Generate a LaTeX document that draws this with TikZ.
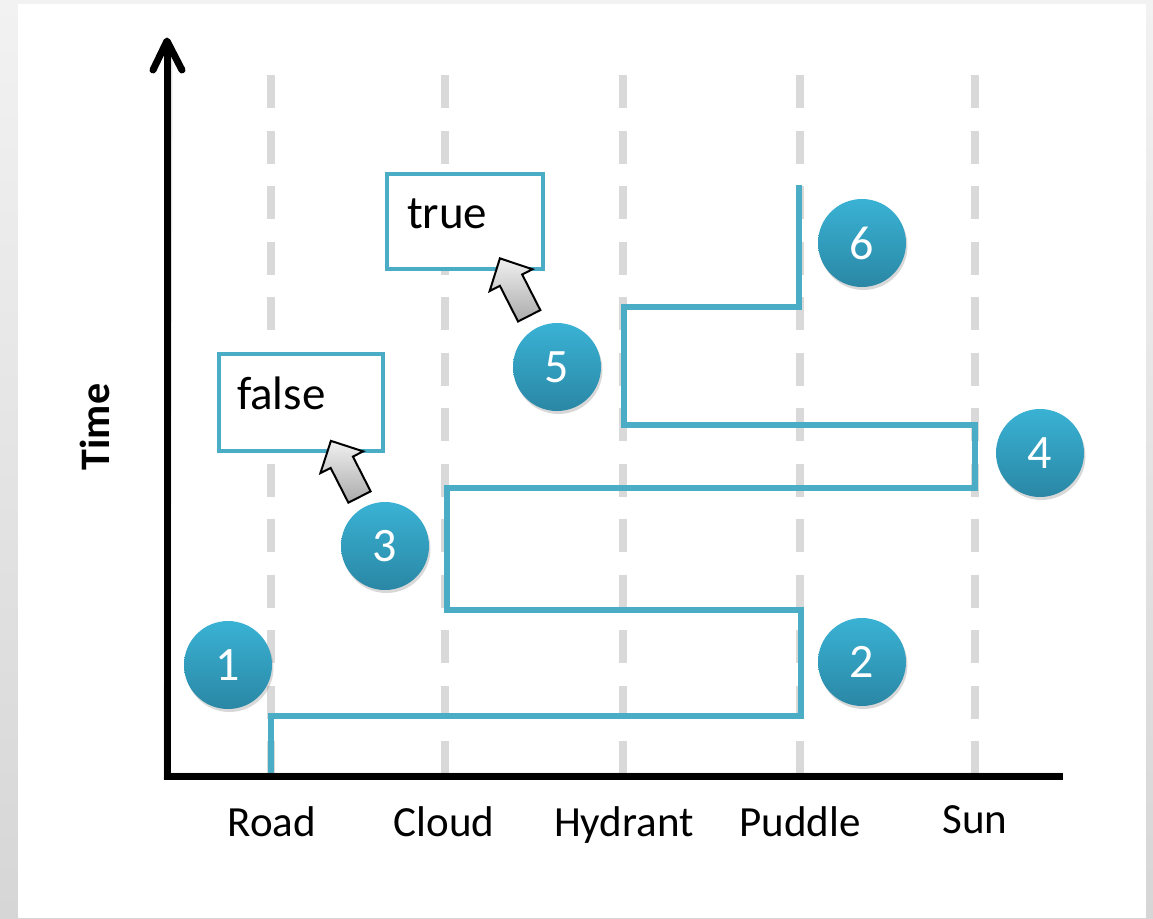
\documentclass[tikz,border=0pt]{standalone}
\usepackage{fontspec}
\setmainfont{Carlito}
\usetikzlibrary{shadows}
\definecolor{seqblue}{HTML}{4BACC6}
\definecolor{circtop}{HTML}{3AB2D4}
\definecolor{circbot}{HTML}{2A87A5}
\definecolor{guide}{HTML}{D9D9D9}
\definecolor{bgtop}{HTML}{F2F2F2}
\definecolor{bgbot}{HTML}{D6D6D6}
\definecolor{calltop}{HTML}{F0F0F0}
\definecolor{callbot}{HTML}{ABABAB}
\begin{document}
\begin{tikzpicture}[x=1pt,y=-1pt,
  axisline/.style={line width=7pt, black},
  guideline/.style={line width=8pt, guide, dash pattern=on 33pt off 22.5pt},
  seqline/.style={line width=6pt, seqblue, line join=miter},
  valbox/.style={draw=seqblue, line width=4pt, fill=white, inner ysep=0pt, align=left, font=\fontsize{47}{50}\selectfont},
  stepnum/.style={circle, minimum size=88pt, inner sep=0pt, top color=circtop, bottom color=circbot, text=white, font=\fontsize{48}{52}\selectfont, drop shadow={shadow xshift=1.5pt, shadow yshift=-3pt, opacity=0.3}},
  collabel/.style={anchor=base, font=\fontsize{43}{46}\selectfont},
  callout/.style={draw=black, line width=2pt, line join=miter, top color=calltop, bottom color=callbot}
]
% background
\fill[top color=bgtop, bottom color=bgbot] (0,0) rectangle (1153,918);
\fill[white] (18,4) rectangle (1146,918);
\useasboundingbox (0,0) rectangle (1153,918);

% axis coordinates
\coordinate (O) at (167,776);
\coordinate (ytip) at (167,41);
\coordinate (xend) at (1063,776);

% guide lines
\foreach \n/\x in {road/271, cloud/445, hydrant/623, puddle/800, sun/975}{
  \coordinate (\n) at (\x,75);
  \draw[guideline] (\n) -- (\n |- O);
}

% column labels
\node[collabel] (lroad) at (272,836) {Road};
\node[collabel] (lcloud) at (444,836) {Cloud};
\node[collabel] (lhydrant) at (624,836) {Hydrant};
\node[collabel] (lpuddle) at (800,836) {Puddle};
\node[collabel] (lsun) at (975,833) {Sun};

% time label
\node[rotate=90, font=\bfseries\fontsize{42}{46}\selectfont, inner sep=0pt] (timelbl) at (95,427) {Time};

% sequence path
\draw[seqline] (271,776) -- (271,716) -- (801,716) -- (801,610) -- (447,610) -- (447,488)
  -- (975,488) -- (975,425) -- (624,425) -- (624,307) -- (799,307) -- (799,185);

% axes shadow
\begin{scope}[shift={(2,3)}]
  \draw[axisline, gray, opacity=0.25] (xend) -- (O) -- (167,46);
\end{scope}
% axes
\draw[axisline] (xend) -- (O) -- (167,46);
\draw[axisline, line cap=round, line join=round] (153,70) -- (ytip) -- (182,70);

% value boxes
\node[valbox, text width=128pt, inner xsep=18pt, text height=55pt, text depth=42pt] (fbox) at (301,402.5) {false};
\node[valbox, text width=116pt, inner xsep=20pt, text height=54pt, text depth=41pt] (tbox) at (465,221.5) {true};

% callout arrows
\begin{scope}[shift={(359.5,497)}, rotate=117]
  \draw[callout] (0,12.5) -- (39,12.5) -- (39,24) -- (63,0) -- (39,-24) -- (39,-12.5) -- (0,-12.5) -- cycle;
\end{scope}
\begin{scope}[shift={(529.2,315.8)}, rotate=117]
  \draw[callout] (0,12.5) -- (40,12.5) -- (40,24) -- (64.5,0) -- (40,-24) -- (40,-12.5) -- (0,-12.5) -- cycle;
\end{scope}

% step circles
\node[stepnum] (s1) at (228,665) {1};
\node[stepnum] (s2) at (862,662) {2};
\node[stepnum] (s3) at (385,546) {3};
\node[stepnum] (s4) at (1040,453) {4};
\node[stepnum] (s5) at (557,367) {5};
\node[stepnum] (s6) at (862,243) {6};
\end{tikzpicture}
\end{document}
